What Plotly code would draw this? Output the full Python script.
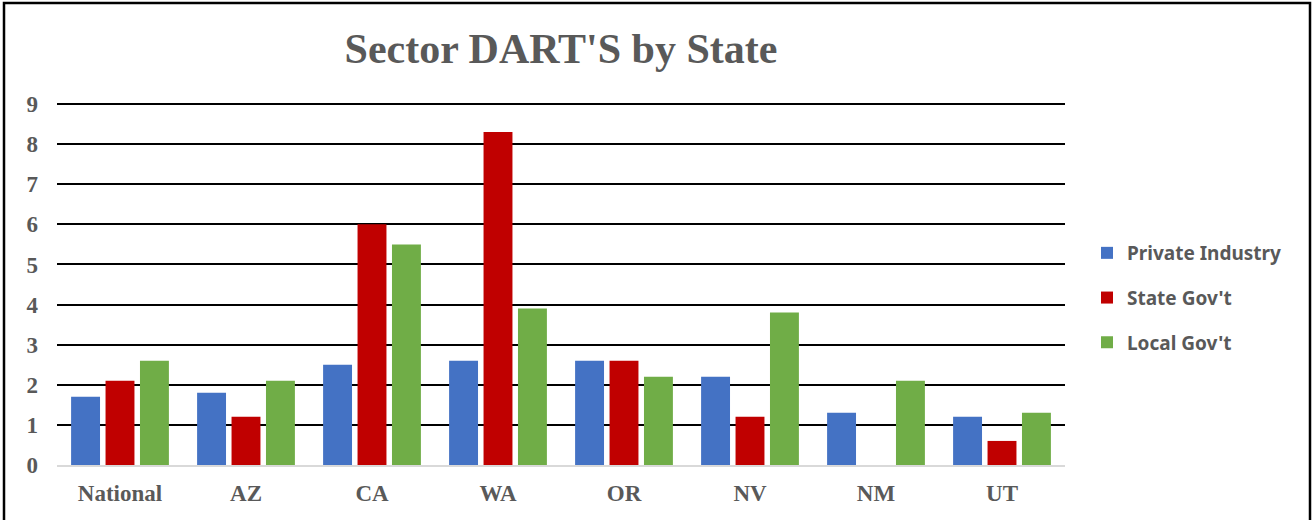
import plotly.graph_objects as go

categories = ["National", "AZ", "CA", "WA", "OR", "NV", "NM", "UT"]
private_industry = [1.7, 1.8, 2.5, 2.6, 2.6, 2.2, 1.3, 1.2]
state_govt = [2.1, 1.2, 6.0, 8.3, 2.6, 1.2, 0, 0.6]
local_govt = [2.6, 2.1, 5.5, 3.9, 2.2, 3.8, 2.1, 1.3]
y_ticks = [0, 1, 2, 3, 4, 5, 6, 7, 8, 9]

W, H = 1313, 520
L, R, T, B = 57, 248, 102, 55
pw, ph = W - L - R, H - T - B

def px_to_paper_x(px):
    return (px - L) / pw

def px_to_paper_y(py):
    return (H - B - py) / ph

fig = go.Figure()
series = [
    ("Private Industry", private_industry, "#4472C4", "g1"),
    ("State Gov't", state_govt, "#C00000", "g2"),
    ("Local Gov't", local_govt, "#70AD47", "g3"),
]
for name, vals, color, grp in series:
    fig.add_trace(go.Bar(
        x=categories, y=vals, name=name, legendgroup=grp,
        marker=dict(color=color, line=dict(width=0)),
    ))

tick_font = dict(family="Liberation Serif, Times New Roman, serif", size=23,
                 color="#595959", weight="bold")

fig.update_layout(
    width=W, height=H,
    margin=dict(l=L, r=R, t=T, b=B, autoexpand=False),
    paper_bgcolor="white", plot_bgcolor="white",
    barmode="group", bargap=0.18, bargroupgap=0.16,
    title=dict(
        text="Sector DART'S by State",
        font=dict(family="Liberation Serif, Times New Roman, serif", size=42,
                  color="#595959", weight="bold"),
        x=0.5, xref="paper", xanchor="center",
        y=1 - 48 / H, yref="container", yanchor="middle",
    ),
    xaxis=dict(
        showgrid=False, tickfont=tick_font, ticks="", ticklabelstandoff=6,
        showline=True, linecolor="#D9D9D9", linewidth=2,
    ),
    yaxis=dict(
        range=[0, 9.05], tickvals=y_ticks, tickfont=tick_font,
        showgrid=True, gridcolor="black", gridwidth=2,
        zeroline=False, showline=False, ticks="", ticklabelstandoff=18,
    ),
    legend=dict(
        x=px_to_paper_x(1087), xanchor="left",
        y=px_to_paper_y(298), yanchor="middle",
        traceorder="grouped", tracegroupgap=17,
        font=dict(family="Noto Sans, Open Sans, sans-serif", size=19,
                  color="#595959", weight="bold"),
        itemwidth=30, bgcolor="rgba(0,0,0,0)",
    ),
    shapes=[dict(
        type="rect", xref="paper", yref="paper",
        x0=px_to_paper_x(4), x1=px_to_paper_x(1310),
        y0=px_to_paper_y(530), y1=px_to_paper_y(3),
        line=dict(color="black", width=2.5), fillcolor="rgba(0,0,0,0)",
        layer="above",
    )],
)

fig.write_html("out.html", config={"displayModeBar": False},
               post_script="document.body.style.margin='0';")
